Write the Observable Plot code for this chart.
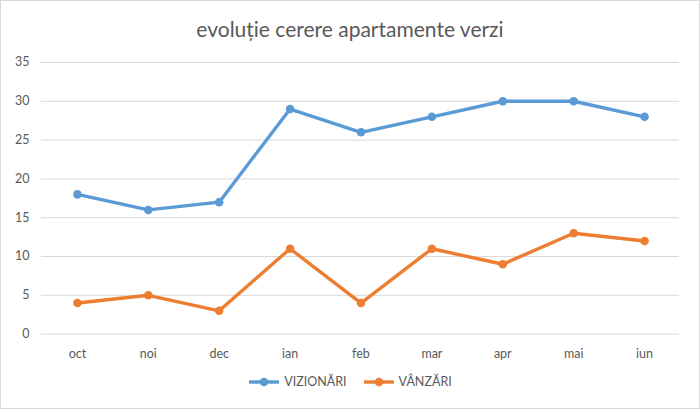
<!DOCTYPE html>
<html><head><meta charset="utf-8">
<script src="https://cdn.jsdelivr.net/npm/d3@7"></script>
<script src="https://cdn.jsdelivr.net/npm/@observablehq/plot@0.6"></script>
<style>
html,body{margin:0;padding:0;background:#fff;}
#wrap{position:relative;width:698px;height:407px;border:1px solid #d9d9d9;font-family:Lato,"Open Sans",sans-serif;color:#595959;overflow:hidden;}
#title{position:absolute;top:15px;left:0;width:698px;text-align:center;font-size:21px;color:#595959;}
#chart{position:absolute;top:49px;left:-1px;}
#legend{position:absolute;top:373px;left:0;width:698px;display:flex;justify-content:center;gap:16px;font-size:12.5px;color:#595959;}
.item{display:flex;align-items:center;gap:4px;}
</style></head>
<body>
<div id="wrap">
  <div id="title">evoluție cerere apartamente verzi</div>
  <div id="chart"></div>
  <div id="legend"></div>
</div>
<script>
const months = ["oct","noi","dec","ian","feb","mar","apr","mai","iun"];
const vizionari = [18,16,17,29,26,28,30,30,28];
const vanzari = [4,5,3,11,4,11,9,13,12];
const seriesNames = ["VIZIONĂRI","VÂNZĂRI"];
const colors = ["#5b9bd5","#ed7d31"];
const yTicks = [0,5,10,15,20,25,30,35];

const data = [];
months.forEach((m,i)=>{
  data.push({month:m, value:vizionari[i], series:seriesNames[0]});
  data.push({month:m, value:vanzari[i], series:seriesNames[1]});
});

const plot = Plot.plot({
  width:700, height:322,
  marginLeft:41, marginRight:20, marginTop:12, marginBottom:38,
  style:{fontFamily:"Lato, 'Open Sans', sans-serif", fontSize:"12.5px", color:"#595959", background:"transparent"},
  x:{type:"point", domain:months, padding:0.5, label:null},
  y:{domain:[0,35], ticks:yTicks, label:null},
  color:{domain:seriesNames, range:colors},
  marks:[
    Plot.gridY(yTicks,{stroke:"#d9d9d9", strokeOpacity:1, strokeWidth:1}),
    Plot.axisY(yTicks,{tickSize:0, tickPadding:12, label:null, fill:"#595959"}),
    Plot.axisX({tickSize:0, tickPadding:15, label:null, fill:"#595959"}),
    Plot.line(data,{x:"month", y:"value", z:"series", stroke:"series", strokeWidth:3.4, strokeLinejoin:"round"}),
    Plot.dot(data,{x:"month", y:"value", fill:"series", r:4.3})
  ]
});
document.getElementById("chart").appendChild(plot);

const legend = document.getElementById("legend");
seriesNames.forEach((s,i)=>{
  const item = document.createElement("div");
  item.className="item";
  item.innerHTML = `<svg width="32" height="12"><line x1="1" y1="6" x2="31" y2="6" stroke="${colors[i]}" stroke-width="3.4"/><circle cx="16" cy="6" r="4.3" fill="${colors[i]}"/></svg><span>${s}</span>`;
  legend.appendChild(item);
});
</script>
</body></html>
